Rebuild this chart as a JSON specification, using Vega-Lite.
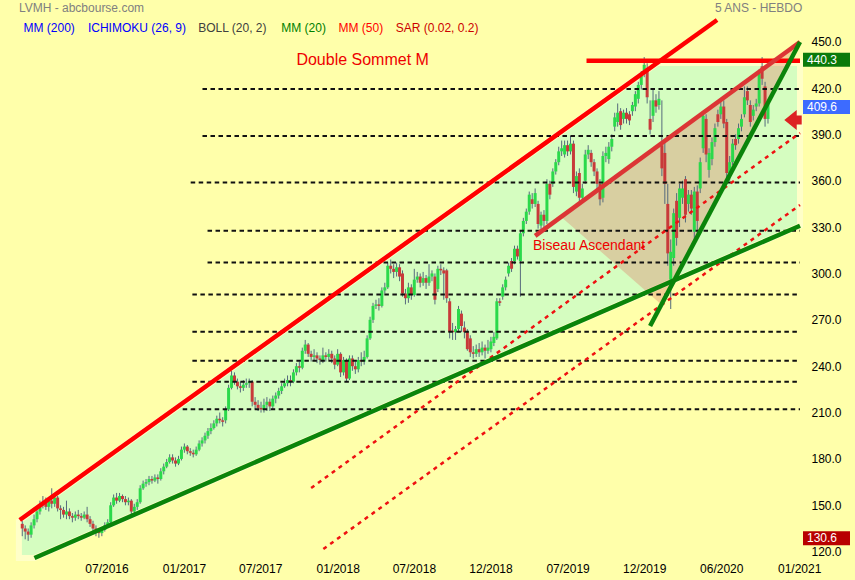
{
"$schema": "https://vega.github.io/schema/vega-lite/v6.json",
"width": 805, "height": 538,
"autosize": {"type": "none"},
"padding": {"left": 0, "top": 20, "right": 50, "bottom": 22},
"background": "#FFFFAA",
"config": {"view": {"stroke": null}, "font": "Liberation Sans"},
"resolve": {"scale": {"color": "independent"}},
"datasets": {
"fill": [
{"d":"2015-12-06","p":139.8,"p2":115.9},
{"d":"2016-01-12","p":147.2,"p2":115.9},
{"d":"2020-01-30","p":436.2,"p2":290.7},
{"d":"2021-01-03","p":436.2,"p2":330.9}
],
"tri": [
{"d":"2019-06-16","p":336.6,"p2":336.6},
{"d":"2020-02-10","p":384.3,"p2":279.6},
{"d":"2021-01-03","p":449.8,"p2":449.8}
],
"levels": [
{"k":"a","d":"2017-02-14","p":419.4},{"k":"a","d":"2021-01-03","p":419.4},
{"k":"b","d":"2017-02-14","p":389.0},{"k":"b","d":"2021-01-03","p":389.0},
{"k":"c","d":"2017-01-17","p":358.8},{"k":"c","d":"2021-01-03","p":358.8},
{"k":"d","d":"2017-02-26","p":327.7},{"k":"d","d":"2021-01-03","p":327.7},
{"k":"e","d":"2017-02-26","p":307.1},{"k":"e","d":"2021-01-03","p":307.1},
{"k":"f","d":"2017-01-21","p":286.4},{"k":"f","d":"2021-01-03","p":286.4},
{"k":"g","d":"2017-01-21","p":262.3},{"k":"g","d":"2021-01-03","p":262.3},
{"k":"h","d":"2017-01-21","p":243.6},{"k":"h","d":"2021-01-03","p":243.6},
{"k":"i","d":"2017-01-21","p":230.0},{"k":"i","d":"2021-01-03","p":230.0},
{"k":"j","d":"2016-12-29","p":212.1},{"k":"j","d":"2021-01-03","p":212.1}
],
"dotted": [
{"k":"a","d":"2017-10-30","p":161.2},{"k":"a","d":"2021-01-03","p":390.9},
{"k":"b","d":"2017-11-28","p":121.7},{"k":"b","d":"2021-01-03","p":344.3}
],
"trend": [
{"k":"upper","d":"2015-12-08","p":140.5},{"k":"upper","d":"2020-06-20","p":464.0},
{"k":"top","d":"2019-08-15","p":437.7},{"k":"top","d":"2021-01-03","p":437.7},
{"k":"biseau","d":"2019-04-15","p":324.3},{"k":"biseau","d":"2021-01-03","p":449.8},
{"k":"lower","d":"2016-01-12","p":115.9},{"k":"lower","d":"2021-01-03","p":330.9},
{"k":"steep","d":"2020-01-13","p":266.0},{"k":"steep","d":"2021-01-03","p":449.8}
],
"tags": [
{"d":"2021-01-03","p":440.3,"t":"440.3"},
{"d":"2021-01-03","p":409.6,"t":"409.6"},
{"d":"2021-01-03","p":130.6,"t":"130.6"}
],
"arrow": [{"d":"2021-01-03","p":399.3}],
"head": [
{"d":"2015-12-06","p":471.8,"t":"LVMH - abcbourse.com"},
{"d":"2020-06-15","p":471.8,"t":"5 ANS - HEBDO"},
{"d":"2015-12-17","p":458.9,"t":"MM (200)"},
{"d":"2016-05-18","p":458.9,"t":"ICHIMOKU (26, 9)"},
{"d":"2017-02-04","p":458.9,"t":"BOLL (20, 2)"},
{"d":"2017-08-20","p":458.9,"t":"MM (20)"},
{"d":"2018-01-03","p":458.9,"t":"MM (50)"},
{"d":"2018-05-19","p":458.9,"t":"SAR (0.02, 0.2)"}
],
"notes1": [{"d":"2017-09-25","p":438.2,"t":"Double Sommet M"}],
"notes2": [{"d":"2019-04-10","p":317.8,"t":"Biseau Ascendant"}],
"candles": [
{"d":"2015-12-14","o":138,"h":140,"l":130,"c":135},
{"d":"2015-12-21","o":135,"h":137,"l":128,"c":133},
{"d":"2015-12-28","o":133,"h":135,"l":127,"c":131},
{"d":"2016-01-04","o":131,"h":139,"l":129,"c":137},
{"d":"2016-01-11","o":137,"h":144,"l":135,"c":141},
{"d":"2016-01-18","o":141,"h":148,"l":139,"c":146},
{"d":"2016-01-25","o":146,"h":153,"l":144,"c":150},
{"d":"2016-02-01","o":150,"h":156,"l":148,"c":152},
{"d":"2016-02-08","o":152,"h":155,"l":147,"c":149},
{"d":"2016-02-15","o":149,"h":155,"l":146,"c":153},
{"d":"2016-02-22","o":153,"h":161,"l":148,"c":151},
{"d":"2016-02-29","o":151,"h":157,"l":149,"c":155},
{"d":"2016-03-07","o":155,"h":156,"l":146,"c":148},
{"d":"2016-03-14","o":148,"h":150,"l":141,"c":147},
{"d":"2016-03-21","o":147,"h":149,"l":142,"c":144},
{"d":"2016-03-28","o":144,"h":153,"l":141,"c":146},
{"d":"2016-04-04","o":146,"h":148,"l":141,"c":143},
{"d":"2016-04-11","o":143,"h":145,"l":139,"c":142},
{"d":"2016-04-18","o":142,"h":146,"l":140,"c":144},
{"d":"2016-04-25","o":144,"h":147,"l":141,"c":143},
{"d":"2016-05-02","o":143,"h":145,"l":140,"c":142},
{"d":"2016-05-09","o":142,"h":146,"l":141,"c":144},
{"d":"2016-05-16","o":144,"h":149,"l":139,"c":141},
{"d":"2016-05-23","o":141,"h":143,"l":136,"c":138},
{"d":"2016-05-30","o":138,"h":140,"l":133,"c":135},
{"d":"2016-06-06","o":135,"h":137,"l":130,"c":133},
{"d":"2016-06-13","o":133,"h":135,"l":129,"c":132},
{"d":"2016-06-20","o":132,"h":136,"l":130,"c":134},
{"d":"2016-06-27","o":134,"h":139,"l":133,"c":137},
{"d":"2016-07-04","o":137,"h":141,"l":136,"c":139},
{"d":"2016-07-11","o":139,"h":152,"l":138,"c":150},
{"d":"2016-07-18","o":150,"h":157,"l":149,"c":155},
{"d":"2016-07-25","o":155,"h":158,"l":151,"c":153},
{"d":"2016-08-01","o":153,"h":158,"l":152,"c":156},
{"d":"2016-08-08","o":156,"h":157,"l":152,"c":154},
{"d":"2016-08-15","o":154,"h":156,"l":150,"c":152},
{"d":"2016-08-22","o":152,"h":155,"l":150,"c":153},
{"d":"2016-08-29","o":153,"h":154,"l":144,"c":146},
{"d":"2016-09-05","o":146,"h":151,"l":144,"c":149},
{"d":"2016-09-12","o":149,"h":154,"l":147,"c":152},
{"d":"2016-09-19","o":152,"h":163,"l":151,"c":161},
{"d":"2016-09-26","o":161,"h":166,"l":160,"c":164},
{"d":"2016-10-03","o":164,"h":167,"l":162,"c":165},
{"d":"2016-10-10","o":165,"h":169,"l":163,"c":167},
{"d":"2016-10-17","o":167,"h":169,"l":164,"c":166},
{"d":"2016-10-24","o":166,"h":170,"l":165,"c":168},
{"d":"2016-10-31","o":168,"h":170,"l":164,"c":167},
{"d":"2016-11-07","o":167,"h":174,"l":166,"c":172},
{"d":"2016-11-14","o":172,"h":177,"l":170,"c":175},
{"d":"2016-11-21","o":175,"h":180,"l":174,"c":178},
{"d":"2016-11-28","o":178,"h":183,"l":177,"c":181},
{"d":"2016-12-05","o":181,"h":183,"l":177,"c":179},
{"d":"2016-12-12","o":179,"h":181,"l":175,"c":177},
{"d":"2016-12-19","o":177,"h":182,"l":176,"c":180},
{"d":"2016-12-26","o":180,"h":188,"l":179,"c":186},
{"d":"2017-01-02","o":186,"h":190,"l":184,"c":188},
{"d":"2017-01-09","o":188,"h":189,"l":183,"c":185},
{"d":"2017-01-16","o":185,"h":187,"l":182,"c":184},
{"d":"2017-01-23","o":184,"h":186,"l":181,"c":183},
{"d":"2017-01-30","o":183,"h":188,"l":182,"c":186},
{"d":"2017-02-06","o":186,"h":192,"l":185,"c":190},
{"d":"2017-02-13","o":190,"h":194,"l":188,"c":192},
{"d":"2017-02-20","o":192,"h":197,"l":190,"c":195},
{"d":"2017-02-27","o":195,"h":200,"l":193,"c":198},
{"d":"2017-03-06","o":198,"h":203,"l":196,"c":200},
{"d":"2017-03-13","o":200,"h":205,"l":199,"c":203},
{"d":"2017-03-20","o":203,"h":208,"l":201,"c":206},
{"d":"2017-03-27","o":206,"h":210,"l":203,"c":205},
{"d":"2017-04-03","o":205,"h":207,"l":201,"c":204},
{"d":"2017-04-10","o":205,"h":214,"l":203,"c":212},
{"d":"2017-04-17","o":212,"h":228,"l":211,"c":226},
{"d":"2017-04-24","o":226,"h":237,"l":225,"c":234},
{"d":"2017-05-01","o":234,"h":236,"l":228,"c":230},
{"d":"2017-05-08","o":230,"h":232,"l":225,"c":227},
{"d":"2017-05-15","o":227,"h":230,"l":223,"c":226},
{"d":"2017-05-22","o":226,"h":231,"l":224,"c":228},
{"d":"2017-05-29","o":228,"h":232,"l":226,"c":229},
{"d":"2017-06-05","o":229,"h":232,"l":226,"c":230},
{"d":"2017-06-12","o":230,"h":231,"l":214,"c":217},
{"d":"2017-06-19","o":217,"h":220,"l":212,"c":215},
{"d":"2017-06-26","o":215,"h":218,"l":211,"c":213},
{"d":"2017-07-03","o":213,"h":217,"l":210,"c":212},
{"d":"2017-07-10","o":212,"h":219,"l":210,"c":215},
{"d":"2017-07-17","o":215,"h":220,"l":211,"c":217},
{"d":"2017-07-24","o":217,"h":219,"l":211,"c":214},
{"d":"2017-07-31","o":214,"h":221,"l":212,"c":219},
{"d":"2017-08-07","o":219,"h":223,"l":216,"c":221},
{"d":"2017-08-14","o":221,"h":226,"l":219,"c":224},
{"d":"2017-08-21","o":224,"h":229,"l":222,"c":227},
{"d":"2017-08-28","o":227,"h":232,"l":226,"c":229},
{"d":"2017-09-04","o":229,"h":234,"l":227,"c":231},
{"d":"2017-09-11","o":231,"h":234,"l":227,"c":230},
{"d":"2017-09-18","o":230,"h":238,"l":229,"c":236},
{"d":"2017-09-25","o":236,"h":242,"l":234,"c":240},
{"d":"2017-10-02","o":240,"h":243,"l":236,"c":239},
{"d":"2017-10-09","o":239,"h":252,"l":238,"c":250},
{"d":"2017-10-16","o":250,"h":257,"l":248,"c":254},
{"d":"2017-10-23","o":254,"h":255,"l":246,"c":248},
{"d":"2017-10-30","o":248,"h":250,"l":243,"c":246},
{"d":"2017-11-06","o":246,"h":251,"l":244,"c":247},
{"d":"2017-11-13","o":247,"h":249,"l":242,"c":245},
{"d":"2017-11-20","o":245,"h":247,"l":241,"c":244},
{"d":"2017-11-27","o":244,"h":252,"l":242,"c":247},
{"d":"2017-12-04","o":247,"h":249,"l":243,"c":246},
{"d":"2017-12-11","o":246,"h":251,"l":244,"c":248},
{"d":"2017-12-18","o":248,"h":250,"l":242,"c":245},
{"d":"2017-12-25","o":245,"h":247,"l":238,"c":241},
{"d":"2018-01-01","o":241,"h":251,"l":240,"c":248},
{"d":"2018-01-08","o":248,"h":249,"l":233,"c":236},
{"d":"2018-01-15","o":236,"h":246,"l":234,"c":244},
{"d":"2018-01-22","o":244,"h":245,"l":230,"c":232},
{"d":"2018-01-29","o":232,"h":247,"l":231,"c":245},
{"d":"2018-02-05","o":245,"h":247,"l":237,"c":240},
{"d":"2018-02-12","o":240,"h":243,"l":235,"c":238},
{"d":"2018-02-19","o":238,"h":246,"l":236,"c":244},
{"d":"2018-02-26","o":244,"h":249,"l":240,"c":243},
{"d":"2018-03-05","o":243,"h":250,"l":241,"c":246},
{"d":"2018-03-12","o":246,"h":260,"l":245,"c":258},
{"d":"2018-03-19","o":258,"h":272,"l":257,"c":270},
{"d":"2018-03-26","o":270,"h":281,"l":268,"c":279},
{"d":"2018-04-02","o":279,"h":283,"l":277,"c":280},
{"d":"2018-04-09","o":280,"h":284,"l":276,"c":279},
{"d":"2018-04-16","o":279,"h":291,"l":278,"c":289},
{"d":"2018-04-23","o":289,"h":294,"l":287,"c":291},
{"d":"2018-04-30","o":291,"h":307,"l":290,"c":305},
{"d":"2018-05-07","o":305,"h":309,"l":300,"c":303},
{"d":"2018-05-14","o":303,"h":306,"l":297,"c":301},
{"d":"2018-05-21","o":301,"h":307,"l":298,"c":304},
{"d":"2018-05-28","o":304,"h":306,"l":295,"c":298},
{"d":"2018-06-04","o":300,"h":302,"l":285,"c":287},
{"d":"2018-06-11","o":287,"h":290,"l":280,"c":284},
{"d":"2018-06-18","o":284,"h":294,"l":281,"c":291},
{"d":"2018-06-25","o":291,"h":293,"l":283,"c":286},
{"d":"2018-07-02","o":286,"h":303,"l":285,"c":296},
{"d":"2018-07-09","o":296,"h":301,"l":294,"c":298},
{"d":"2018-07-16","o":298,"h":300,"l":291,"c":294},
{"d":"2018-07-23","o":294,"h":301,"l":292,"c":297},
{"d":"2018-07-30","o":297,"h":299,"l":290,"c":294},
{"d":"2018-08-06","o":294,"h":306,"l":292,"c":298},
{"d":"2018-08-13","o":298,"h":302,"l":295,"c":300},
{"d":"2018-08-20","o":298,"h":300,"l":280,"c":283},
{"d":"2018-08-27","o":290,"h":305,"l":288,"c":303},
{"d":"2018-09-03","o":303,"h":306,"l":299,"c":302},
{"d":"2018-09-10","o":302,"h":304,"l":283,"c":300},
{"d":"2018-09-17","o":302,"h":303,"l":281,"c":284},
{"d":"2018-09-24","o":282,"h":284,"l":258,"c":262},
{"d":"2018-10-01","o":263,"h":268,"l":257,"c":262},
{"d":"2018-10-08","o":262,"h":266,"l":257,"c":264},
{"d":"2018-10-15","o":264,"h":279,"l":262,"c":277},
{"d":"2018-10-22","o":274,"h":276,"l":262,"c":266},
{"d":"2018-10-29","o":265,"h":269,"l":258,"c":262},
{"d":"2018-11-05","o":262,"h":264,"l":250,"c":251},
{"d":"2018-11-12","o":258,"h":260,"l":246,"c":249},
{"d":"2018-11-19","o":249,"h":253,"l":245,"c":248},
{"d":"2018-11-26","o":248,"h":254,"l":246,"c":251},
{"d":"2018-12-03","o":251,"h":255,"l":246,"c":249},
{"d":"2018-12-10","o":249,"h":256,"l":247,"c":252},
{"d":"2018-12-17","o":252,"h":254,"l":245,"c":250},
{"d":"2018-12-24","o":250,"h":257,"l":248,"c":252},
{"d":"2018-12-31","o":251,"h":259,"l":249,"c":256},
{"d":"2019-01-07","o":255,"h":262,"l":253,"c":259},
{"d":"2019-01-14","o":258,"h":284,"l":257,"c":282},
{"d":"2019-01-21","o":282,"h":284,"l":279,"c":281},
{"d":"2019-01-28","o":285,"h":293,"l":283,"c":291},
{"d":"2019-02-04","o":291,"h":298,"l":289,"c":296},
{"d":"2019-02-11","o":300,"h":307,"l":298,"c":305},
{"d":"2019-02-18","o":308,"h":310,"l":301,"c":303},
{"d":"2019-02-25","o":308,"h":318,"l":306,"c":316},
{"d":"2019-03-04","o":316,"h":318,"l":309,"c":311},
{"d":"2019-03-11","o":308,"h":328,"l":285,"c":326},
{"d":"2019-03-18","o":326,"h":336,"l":324,"c":334},
{"d":"2019-03-25","o":334,"h":342,"l":332,"c":340},
{"d":"2019-04-01","o":340,"h":353,"l":338,"c":351},
{"d":"2019-04-08","o":348,"h":352,"l":342,"c":345},
{"d":"2019-04-15","o":345,"h":355,"l":343,"c":352},
{"d":"2019-04-22","o":345,"h":347,"l":329,"c":332},
{"d":"2019-04-29","o":331,"h":340,"l":326,"c":338},
{"d":"2019-05-06","o":338,"h":341,"l":330,"c":334},
{"d":"2019-05-13","o":334,"h":361,"l":332,"c":358},
{"d":"2019-05-20","o":358,"h":360,"l":348,"c":351},
{"d":"2019-05-27","o":358,"h":368,"l":356,"c":366},
{"d":"2019-06-03","o":366,"h":374,"l":364,"c":372},
{"d":"2019-06-10","o":372,"h":382,"l":370,"c":379},
{"d":"2019-06-17","o":379,"h":386,"l":376,"c":381},
{"d":"2019-06-24","o":377,"h":386,"l":375,"c":383},
{"d":"2019-07-01","o":383,"h":386,"l":376,"c":379},
{"d":"2019-07-08","o":379,"h":389,"l":377,"c":384},
{"d":"2019-07-15","o":384,"h":386,"l":352,"c":356},
{"d":"2019-07-22","o":353,"h":366,"l":350,"c":363},
{"d":"2019-07-29","o":365,"h":368,"l":346,"c":349},
{"d":"2019-08-05","o":349,"h":358,"l":346,"c":355},
{"d":"2019-08-12","o":360,"h":380,"l":358,"c":377},
{"d":"2019-08-19","o":377,"h":383,"l":374,"c":380},
{"d":"2019-08-26","o":378,"h":380,"l":369,"c":372},
{"d":"2019-09-02","o":372,"h":374,"l":363,"c":366},
{"d":"2019-09-09","o":366,"h":368,"l":354,"c":358},
{"d":"2019-09-16","o":358,"h":361,"l":344,"c":348},
{"d":"2019-09-23","o":349,"h":379,"l":346,"c":376},
{"d":"2019-09-30","o":376,"h":382,"l":372,"c":378},
{"d":"2019-10-07","o":374,"h":385,"l":371,"c":382},
{"d":"2019-10-14","o":382,"h":390,"l":379,"c":387},
{"d":"2019-10-21","o":395,"h":404,"l":392,"c":401},
{"d":"2019-10-28","o":398,"h":410,"l":395,"c":404},
{"d":"2019-11-04","o":405,"h":407,"l":393,"c":396},
{"d":"2019-11-11","o":400,"h":406,"l":397,"c":404},
{"d":"2019-11-18","o":404,"h":407,"l":397,"c":400},
{"d":"2019-11-25","o":403,"h":405,"l":396,"c":399},
{"d":"2019-12-02","o":405,"h":411,"l":402,"c":409},
{"d":"2019-12-09","o":408,"h":418,"l":405,"c":416},
{"d":"2019-12-16","o":413,"h":424,"l":410,"c":422},
{"d":"2019-12-23","o":422,"h":431,"l":419,"c":429},
{"d":"2019-12-30","o":429,"h":440,"l":427,"c":435},
{"d":"2020-01-06","o":433,"h":436,"l":410,"c":414},
{"d":"2020-01-13","o":400,"h":412,"l":390,"c":393},
{"d":"2020-01-20","o":402,"h":420,"l":398,"c":412},
{"d":"2020-01-27","o":412,"h":416,"l":404,"c":408},
{"d":"2020-02-03","o":409,"h":418,"l":406,"c":413},
{"d":"2020-02-10","o":383,"h":412,"l":363,"c":368},
{"d":"2020-02-17","o":378,"h":385,"l":345,"c":358},
{"d":"2020-02-24","o":345,"h":358,"l":305,"c":313},
{"d":"2020-03-02","o":296,"h":322,"l":277,"c":314},
{"d":"2020-03-09","o":310,"h":342,"l":305,"c":339},
{"d":"2020-03-16","o":347,"h":352,"l":318,"c":323},
{"d":"2020-03-23","o":336,"h":358,"l":330,"c":355},
{"d":"2020-03-30","o":349,"h":360,"l":345,"c":355},
{"d":"2020-04-06","o":361,"h":363,"l":333,"c":338},
{"d":"2020-04-13","o":345,"h":354,"l":340,"c":351},
{"d":"2020-04-20","o":351,"h":354,"l":338,"c":342},
{"d":"2020-04-27","o":327,"h":356,"l":322,"c":353},
{"d":"2020-05-04","o":353,"h":357,"l":326,"c":334},
{"d":"2020-05-11","o":355,"h":375,"l":352,"c":372},
{"d":"2020-05-18","o":381,"h":405,"l":378,"c":402},
{"d":"2020-05-25","o":400,"h":403,"l":372,"c":377},
{"d":"2020-06-01","o":367,"h":381,"l":362,"c":378},
{"d":"2020-06-08","o":374,"h":388,"l":370,"c":385},
{"d":"2020-06-15","o":385,"h":397,"l":382,"c":394},
{"d":"2020-06-22","o":403,"h":406,"l":395,"c":398},
{"d":"2020-06-29","o":403,"h":411,"l":400,"c":408},
{"d":"2020-07-06","o":408,"h":412,"l":394,"c":397},
{"d":"2020-07-13","o":398,"h":400,"l":362,"c":365},
{"d":"2020-07-20","o":365,"h":376,"l":360,"c":372},
{"d":"2020-07-27","o":372,"h":387,"l":370,"c":384},
{"d":"2020-08-03","o":387,"h":390,"l":380,"c":383},
{"d":"2020-08-10","o":387,"h":397,"l":384,"c":394},
{"d":"2020-08-17","o":395,"h":403,"l":392,"c":400},
{"d":"2020-08-24","o":403,"h":421,"l":401,"c":414},
{"d":"2020-08-31","o":418,"h":421,"l":409,"c":412},
{"d":"2020-09-07","o":409,"h":412,"l":395,"c":398},
{"d":"2020-09-14","o":402,"h":409,"l":399,"c":406},
{"d":"2020-09-21","o":408,"h":413,"l":405,"c":410},
{"d":"2020-09-28","o":410,"h":432,"l":408,"c":429},
{"d":"2020-10-05","o":434,"h":440,"l":422,"c":426},
{"d":"2020-10-12","o":421,"h":424,"l":395,"c":400},
{"d":"2020-10-19","o":400,"h":412,"l":397,"c":409.6}
]
},
"layer": [
{
"data": {"name": "fill"},
"mark": {"type": "area", "fill": "#D5FDC0", "stroke": "#FFFFC8", "strokeWidth": 6, "strokeJoin": "miter"},
"encoding": {
"x": {"field": "d", "type": "temporal", "title": null,
 "scale": {"type": "utc", "domain": [{"year": 2015, "month": 11, "date": 3, "utc": true}, {"year": 2021, "month": 1, "date": 3, "utc": true}]},
 "axis": {"orient": "bottom", "labelExpr": "utcFormat(datum.value, '%m/%Y')", "ticks": false, "domain": false, "grid": false, "labelPadding": 5, "labelFontSize": 12, "labelColor": "#000000", "labelFlush": false, "labelOverlap": false,
  "values": [{"year": 2016, "month": 7, "date": 1, "utc": true}, {"year": 2017, "month": 1, "date": 1, "utc": true}, {"year": 2017, "month": 7, "date": 1, "utc": true}, {"year": 2018, "month": 1, "date": 1, "utc": true}, {"year": 2018, "month": 7, "date": 1, "utc": true}, {"year": 2018, "month": 12, "date": 30, "utc": true}, {"year": 2019, "month": 7, "date": 1, "utc": true}, {"year": 2019, "month": 12, "date": 30, "utc": true}, {"year": 2020, "month": 6, "date": 30, "utc": true}, {"year": 2021, "month": 1, "date": 1, "utc": true}]}},
"y": {"field": "p", "type": "quantitative", "title": null,
 "scale": {"domain": [115.9, 464.0], "nice": false, "zero": false},
 "axis": {"orient": "right", "format": ".1f", "ticks": false, "domain": false, "grid": false, "labelPadding": 6, "labelFontSize": 12, "labelColor": "#000000", "labelOverlap": false, "labelFlush": false,
  "values": [120, 150, 180, 210, 240, 270, 300, 330, 360, 390, 420, 450]}},
"y2": {"field": "p2"}
}
},
{
"data": {"name": "tri"},
"mark": {"type": "area", "fill": "#E07060", "fillOpacity": 0.32},
"encoding": {
"x": {"field": "d", "type": "temporal", "title": null},
"y": {"field": "p", "type": "quantitative", "title": null},
"y2": {"field": "p2"}
}
},
{
"data": {"name": "candles"},
"mark": {"type": "rule", "color": "#556A7C", "strokeWidth": 1},
"encoding": {
"x": {"field": "d", "type": "temporal", "title": null},
"y": {"field": "l", "type": "quantitative", "title": null},
"y2": {"field": "h"}
}
},
{
"data": {"name": "candles"},
"mark": {"type": "bar", "size": 3},
"encoding": {
"x": {"field": "d", "type": "temporal", "title": null},
"y": {"field": "o", "type": "quantitative", "title": null},
"y2": {"field": "c"},
"color": {"condition": {"test": "datum.c >= datum.o", "value": "#2BD94B"}, "value": "#C83A3A"}
}
},
{
"data": {"name": "levels"},
"mark": {"type": "line", "color": "#111111", "strokeWidth": 2, "strokeDash": [4.5, 3.5]},
"encoding": {
"x": {"field": "d", "type": "temporal", "title": null},
"y": {"field": "p", "type": "quantitative", "title": null},
"detail": {"field": "k"}
}
},
{
"data": {"name": "dotted"},
"mark": {"type": "line", "color": "#EE1111", "strokeWidth": 2.5, "strokeDash": [4, 4.5]},
"encoding": {
"x": {"field": "d", "type": "temporal", "title": null},
"y": {"field": "p", "type": "quantitative", "title": null},
"detail": {"field": "k"}
}
},
{
"data": {"name": "trend"},
"mark": {"type": "line", "strokeWidth": 4.5, "strokeCap": "butt"},
"encoding": {
"x": {"field": "d", "type": "temporal", "title": null},
"y": {"field": "p", "type": "quantitative", "title": null},
"detail": {"field": "k"},
"color": {"field": "k", "legend": null, "scale": {"domain": ["upper", "top", "biseau", "lower", "steep"], "range": ["#FF0000", "#FF0000", "#DC3535", "#0A840A", "#0A840A"]}}
}
},
{
"data": {"name": "tags"},
"mark": {"type": "point", "shape": "M0.3,-0.7H5V0.7H0.3Z", "size": 400, "filled": true, "opacity": 1, "strokeWidth": 0, "yOffset": 3},
"encoding": {
"x": {"field": "d", "type": "temporal", "title": null},
"y": {"field": "p", "type": "quantitative", "title": null},
"color": {"field": "t", "legend": null, "scale": {"domain": ["440.3", "409.6", "130.6"], "range": ["#0A7A0A", "#3D6BFF", "#B80000"]}}
}
},
{
"data": {"name": "tags"},
"mark": {"type": "text", "align": "left", "baseline": "middle", "dx": 7, "yOffset": 3, "fontSize": 12, "color": "#FFFFFF"},
"encoding": {
"x": {"field": "d", "type": "temporal", "title": null},
"y": {"field": "p", "type": "quantitative", "title": null},
"text": {"field": "t"}
}
},
{
"data": {"name": "arrow"},
"mark": {"type": "point", "shape": "M-1.57,0L-0.33,-1L-0.33,-0.45L0.17,-0.45L0.17,0.45L-0.33,0.45L-0.33,1Z", "size": 400, "filled": true, "opacity": 1, "color": "#DD2222", "strokeWidth": 0},
"encoding": {
"x": {"field": "d", "type": "temporal", "title": null},
"y": {"field": "p", "type": "quantitative", "title": null}
}
},
{
"data": {"name": "head"},
"mark": {"type": "text", "align": "left", "baseline": "middle", "fontSize": 12},
"encoding": {
"x": {"field": "d", "type": "temporal", "title": null},
"y": {"field": "p", "type": "quantitative", "title": null},
"text": {"field": "t"},
"color": {"field": "t", "legend": null, "scale": {"domain": ["LVMH - abcbourse.com", "5 ANS - HEBDO", "MM (200)", "ICHIMOKU (26, 9)", "BOLL (20, 2)", "MM (20)", "MM (50)", "SAR (0.02, 0.2)"], "range": ["#808080", "#808080", "#0000FF", "#0000FF", "#404040", "#008000", "#FF0000", "#CC0000"]}}
}
},
{
"data": {"name": "notes1"},
"mark": {"type": "text", "align": "left", "baseline": "middle", "fontSize": 16, "color": "#EE0000"},
"encoding": {
"x": {"field": "d", "type": "temporal", "title": null},
"y": {"field": "p", "type": "quantitative", "title": null},
"text": {"field": "t"}
}
},
{
"data": {"name": "notes2"},
"mark": {"type": "text", "align": "left", "baseline": "middle", "fontSize": 14, "color": "#EE0000"},
"encoding": {
"x": {"field": "d", "type": "temporal", "title": null},
"y": {"field": "p", "type": "quantitative", "title": null},
"text": {"field": "t"}
}
}
]
}
